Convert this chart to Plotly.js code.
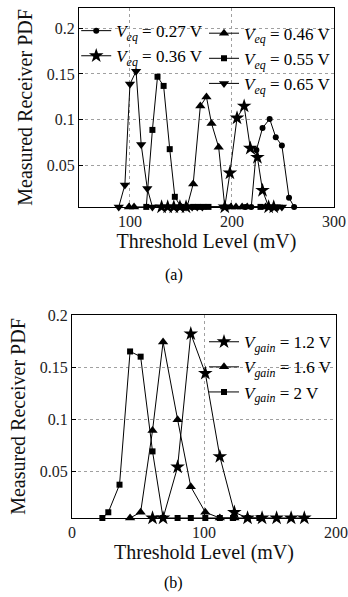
<!DOCTYPE html>
<html>
<head>
<meta charset="utf-8">
<script src="https://cdn.plot.ly/plotly-3.0.1.min.js"></script>
<style>html,body{margin:0;padding:0;background:#fff;}#chart{width:348px;height:597px;}</style>
</head>
<body>
<div id="chart"></div>
<script>
// ---- Panel (a): receiver PDF vs threshold for several Veq ----
const BASE = 0.005; // values at the plot floor

const a27_x = [213, 219, 224, 230, 237, 243, 249, 256, 261];
const a27_y = [BASE, BASE, 0.067, 0.091, 0.101, 0.081, 0.072, 0.015, BASE];

const a36_x = [131, 137, 143, 149, 155, 193, 198, 205, 212, 218, 225, 230, 236, 241];
const a36_y = [BASE, BASE, BASE, BASE, BASE, BASE, 0.042, 0.102, 0.115, 0.069, 0.059, 0.023, BASE, BASE];

const a46_x = [99, 104, 150, 156, 162, 169, 175, 180, 187, 193, 199, 204, 210, 215, 233];
const a46_y = [BASE, BASE, BASE, BASE, 0.030, 0.115, 0.125, 0.096, 0.070, BASE, BASE, BASE, BASE, BASE, BASE];

const a55_x = [116, 122, 127, 133, 139, 144, 150, 162, 167, 172, 177, 228];
const a55_y = [BASE, 0.089, 0.147, 0.137, 0.068, 0.016, BASE, BASE, BASE, BASE, BASE, BASE];

const a65_x = [89, 95, 100, 106, 111, 117, 122, 155, 161, 166, 171, 195, 240, 245, 249];
const a65_y = [BASE, 0.029, 0.139, 0.153, 0.073, 0.025, BASE, BASE, BASE, BASE, BASE, BASE, BASE, BASE, BASE];

// ---- Panel (b): receiver PDF vs threshold for several Vgain ----
const b12_x = [61, 69, 80, 90, 101, 112, 123, 133, 144, 155, 166, 176];
const b12_y = [BASE, BASE, 0.054, 0.182, 0.144, 0.064, 0.0105, BASE, BASE, BASE, BASE, BASE];

const b16_x = [44, 52, 61, 69, 80, 90, 101, 112, 123];
const b16_y = [BASE, 0.0105, 0.089, 0.174, 0.0995, 0.035, 0.0105, BASE, BASE];

const b20_x = [23, 27.5, 36, 44, 52, 61, 69, 80, 90, 101, 112, 122, 133, 142];
const b20_y = [BASE, 0.0105, 0.037, 0.165, 0.160, 0.069, BASE, BASE, BASE, BASE, BASE, BASE, BASE, BASE];

const aXticks = [100, 200, 300];
const aYticks = [0.05, 0.1, 0.15, 0.2];
const aYtickText = ['0.05', '0.1', '0.15', '0.2'];
const bXticks = [0, 100, 200];
const bYticks = [0.05, 0.1, 0.15, 0.2];
const bYtickText = ['0.05', '0.1', '0.15', '0.2'];

const FONT = "'Liberation Serif', 'Times New Roman', Times, serif";

function tr(x, y, name, symbol, size, xa, ya, legend) {
  return {
    x: x, y: y, name: name, type: 'scatter', mode: 'lines+markers',
    xaxis: xa, yaxis: ya, legend: legend, cliponaxis: false,
    line: {color: '#000', width: 1},
    marker: {symbol: symbol, size: size, color: '#000'}
  };
}

const data = [
  tr(a27_x, a27_y, '<i>V<sub>eq</sub></i> = 0.27 V', 'circle', 6, 'x', 'y', 'legend'),
  tr(a36_x, a36_y, '<i>V<sub>eq</sub></i> = 0.36 V', 'star', 11, 'x', 'y', 'legend'),
  tr(a46_x, a46_y, '<i>V<sub>eq</sub></i> = 0.46 V', 'triangle-up', 9, 'x', 'y', 'legend2'),
  tr(a55_x, a55_y, '<i>V<sub>eq</sub></i> = 0.55 V', 'square', 6, 'x', 'y', 'legend2'),
  tr(a65_x, a65_y, '<i>V<sub>eq</sub></i> = 0.65 V', 'triangle-down', 9, 'x', 'y', 'legend2'),
  tr(b12_x, b12_y, '<i>V<sub>gain</sub></i> = 1.2 V', 'star', 11, 'x2', 'y2', 'legend3'),
  tr(b16_x, b16_y, '<i>V<sub>gain</sub></i> = 1.6 V', 'triangle-up', 9, 'x2', 'y2', 'legend3'),
  tr(b20_x, b20_y, '<i>V<sub>gain</sub></i> = 2 V', 'square', 6, 'x2', 'y2', 'legend3')
];

const axCommon = {
  showline: true, mirror: true, linecolor: '#000', linewidth: 1,
  ticks: 'inside', ticklen: 4, tickcolor: '#000',
  showgrid: true, gridcolor: '#a0a0a0', griddash: 'dot', gridwidth: 1,
  zeroline: false, tickfont: {family: FONT, size: 16, color: '#222'},
  fixedrange: true, automargin: false
};

const legCommon = {
  bgcolor: 'rgba(0,0,0,0)', borderwidth: 0,
  font: {family: FONT, size: 17, color: '#000'},
  tracegroupgap: 0, itemwidth: 30, xanchor: 'left', yanchor: 'top'
};

const titleFont = {family: FONT, size: 20, color: '#111'};

const layout = {
  width: 348, height: 597,
  margin: {l: 72, r: 12, t: 8, b: 79, autoexpand: false},
  paper_bgcolor: '#fff', plot_bgcolor: '#fff',
  font: {family: FONT, size: 16, color: '#000'},
  xaxis: Object.assign({}, axCommon, {
    domain: [0.0265, 0.992], anchor: 'y', range: [50, 300],
    tickvals: aXticks,
    title: {text: 'Threshold Level (mV)', font: titleFont, standoff: 4}
  }),
  yaxis: Object.assign({}, axCommon, {
    domain: [0.61, 1], anchor: 'x', range: [0.005, 0.222],
    tickvals: aYticks, ticktext: aYtickText,
    title: {text: 'Measured Receiver PDF', font: titleFont, standoff: 8}
  }),
  xaxis2: Object.assign({}, axCommon, {
    domain: [0, 1], anchor: 'y2', range: [0, 200],
    tickvals: bXticks,
    title: {text: 'Threshold Level (mV)', font: titleFont, standoff: 4}
  }),
  yaxis2: Object.assign({}, axCommon, {
    domain: [0, 0.398], anchor: 'x2', range: [0.005, 0.2],
    tickvals: bYticks, ticktext: bYtickText,
    title: {text: 'Measured Receiver PDF', font: titleFont, standoff: 8}
  }),
  legend: Object.assign({}, legCommon, {x: 0.016, y: 0.99}),
  legend2: Object.assign({}, legCommon, {x: 0.5, y: 0.985}),
  legend3: Object.assign({}, legCommon, {x: 0.5, y: 0.38}),
  annotations: [
    {text: '(a)', xref: 'paper', yref: 'paper', x: 0.386, y: 0.476, showarrow: false,
     font: {family: FONT, size: 16, color: '#000'}, xanchor: 'center', yanchor: 'middle'},
    {text: '(b)', xref: 'paper', yref: 'paper', x: 0.386, y: -0.127, showarrow: false,
     font: {family: FONT, size: 16, color: '#000'}, xanchor: 'center', yanchor: 'middle'}
  ],
  showlegend: true
};

Plotly.newPlot('chart', data, layout, {displayModeBar: false, staticPlot: true});
</script>
</body>
</html>
